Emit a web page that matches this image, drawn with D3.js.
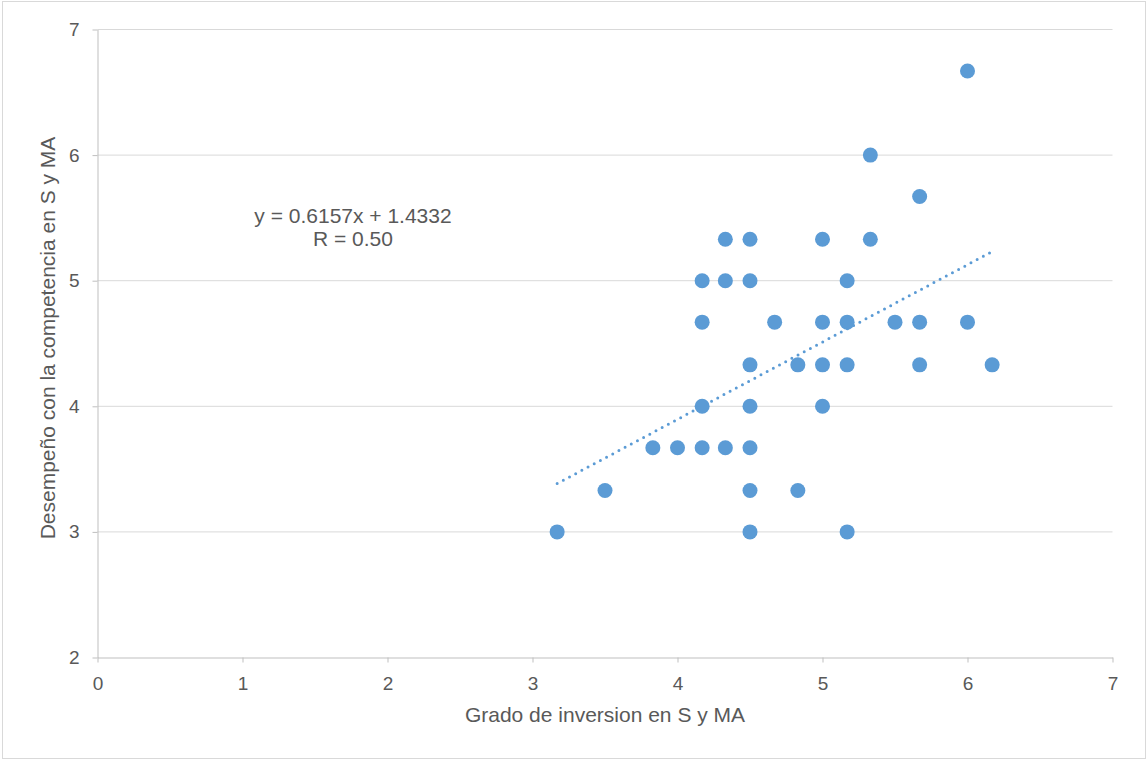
<!DOCTYPE html>
<html>
<head>
<meta charset="utf-8">
<script src="https://cdn.jsdelivr.net/npm/d3@7"></script>
<style>
    body { margin: 0; background: #fff; }
    text { font-family: "Liberation Sans", Arial, sans-serif; fill: #595959; }
</style>
</head>
<body>
<svg id="chart"></svg>
<script>
// datos
const xValues = [3.17, 3.5, 3.83, 4, 4.17, 4.17, 4.17, 4.17, 4.33, 4.33, 4.33,
    4.5, 4.5, 4.5, 4.5, 4.5, 4.5, 4.5, 4.67, 4.83, 4.83, 5, 5, 5, 5,
    5.17, 5.17, 5.17, 5.17, 5.33, 5.33, 5.5, 5.67, 5.67, 5.67, 6, 6, 6.17];
const yValues = [3, 3.33, 3.67, 3.67, 3.67, 4, 4.67, 5, 3.67, 5, 5.33,
    5.33, 5, 4.33, 4, 3.67, 3.33, 3, 4.67, 4.33, 3.33, 5.33, 4.67, 4.33, 4,
    5, 4.67, 4.33, 3, 6, 5.33, 4.67, 5.67, 4.67, 4.33, 6.67, 4.67, 4.33];
const xTicks = [0, 1, 2, 3, 4, 5, 6, 7];
const yTicks = [2, 3, 4, 5, 6, 7];
const slope = 0.6157;
const intercept = 1.4332;
const trendRange = [3.17, 6.17];
const equationLines = ["y = 0.6157x + 1.4332", "R = 0.50"];

const width = 1147;
const height = 762;

const svg = d3.select("#chart")
    .attr("width", width)
    .attr("height", height);

// borde del area del grafico
svg.append("rect")
    .attr("x", 2.5)
    .attr("y", 1.5)
    .attr("width", 1143)
    .attr("height", 757)
    .attr("fill", "#fff")
    .attr("stroke", "#d9d9d9")
    .attr("stroke-width", 1);

const x = d3.scaleLinear().domain([0, 7]).range([97.5, 1112.5]);
const y = d3.scaleLinear().domain([2, 7]).range([657.5, 29.5]);

// lineas de cuadricula
svg.append("g")
    .selectAll("line")
    .data(yTicks.filter(d => d > 2))
    .join("line")
    .attr("x1", x(0))
    .attr("x2", x(7))
    .attr("y1", d => y(d))
    .attr("y2", d => y(d))
    .attr("stroke", "#d9d9d9")
    .attr("stroke-width", 1);

// eje x
const xAxis = svg.append("g")
    .attr("transform", `translate(0, ${y(2)})`)
    .call(d3.axisBottom(x).tickValues(xTicks).tickFormat(d3.format("d"))
        .tickSize(5).tickSizeOuter(0).tickPadding(14));
xAxis.select(".domain").attr("stroke", "#bfbfbf");
xAxis.selectAll(".tick line").attr("stroke", "#bfbfbf");
xAxis.selectAll(".tick text")
    .attr("font-size", 19)
    .attr("font-family", "Liberation Sans, Arial, sans-serif")
    .attr("fill", "#595959");

// eje y
const yAxis = svg.append("g")
    .attr("transform", `translate(${x(0)}, 0)`)
    .call(d3.axisLeft(y).tickValues(yTicks).tickFormat(d3.format("d"))
        .tickSize(5).tickSizeOuter(0).tickPadding(13));
yAxis.select(".domain").attr("stroke", "#bfbfbf");
yAxis.selectAll(".tick line").attr("stroke", "#bfbfbf");
yAxis.selectAll(".tick text")
    .attr("font-size", 19)
    .attr("font-family", "Liberation Sans, Arial, sans-serif")
    .attr("fill", "#595959");

// puntos
svg.append("g")
    .selectAll("circle")
    .data(xValues.map((d, i) => [d, yValues[i]]))
    .join("circle")
    .attr("cx", d => x(d[0]))
    .attr("cy", d => y(d[1]))
    .attr("r", 7.5)
    .attr("fill", "#5b9bd5");

// linea de tendencia
svg.append("line")
    .attr("x1", x(trendRange[0]))
    .attr("y1", y(slope * trendRange[0] + intercept))
    .attr("x2", x(trendRange[1]))
    .attr("y2", y(slope * trendRange[1] + intercept))
    .attr("stroke", "#5b9bd5")
    .attr("stroke-width", 3)
    .attr("stroke-linecap", "round")
    .attr("stroke-dasharray", "0 7");

// ecuacion
svg.append("g")
    .selectAll("text")
    .data(equationLines)
    .join("text")
    .attr("x", 353)
    .attr("y", (d, i) => 223 + i * 23)
    .attr("text-anchor", "middle")
    .attr("font-size", 21)
    .text(d => d);

// titulos de ejes
svg.append("text")
    .attr("x", (x(0) + x(7)) / 2)
    .attr("y", 722)
    .attr("text-anchor", "middle")
    .attr("font-size", 21)
    .text("Grado de inversion en S y MA");

svg.append("text")
    .attr("transform", `translate(55, 338) rotate(-90)`)
    .attr("text-anchor", "middle")
    .attr("font-size", 21)
    .text("Desempeño con la competencia en S y MA");
</script>
</body>
</html>
